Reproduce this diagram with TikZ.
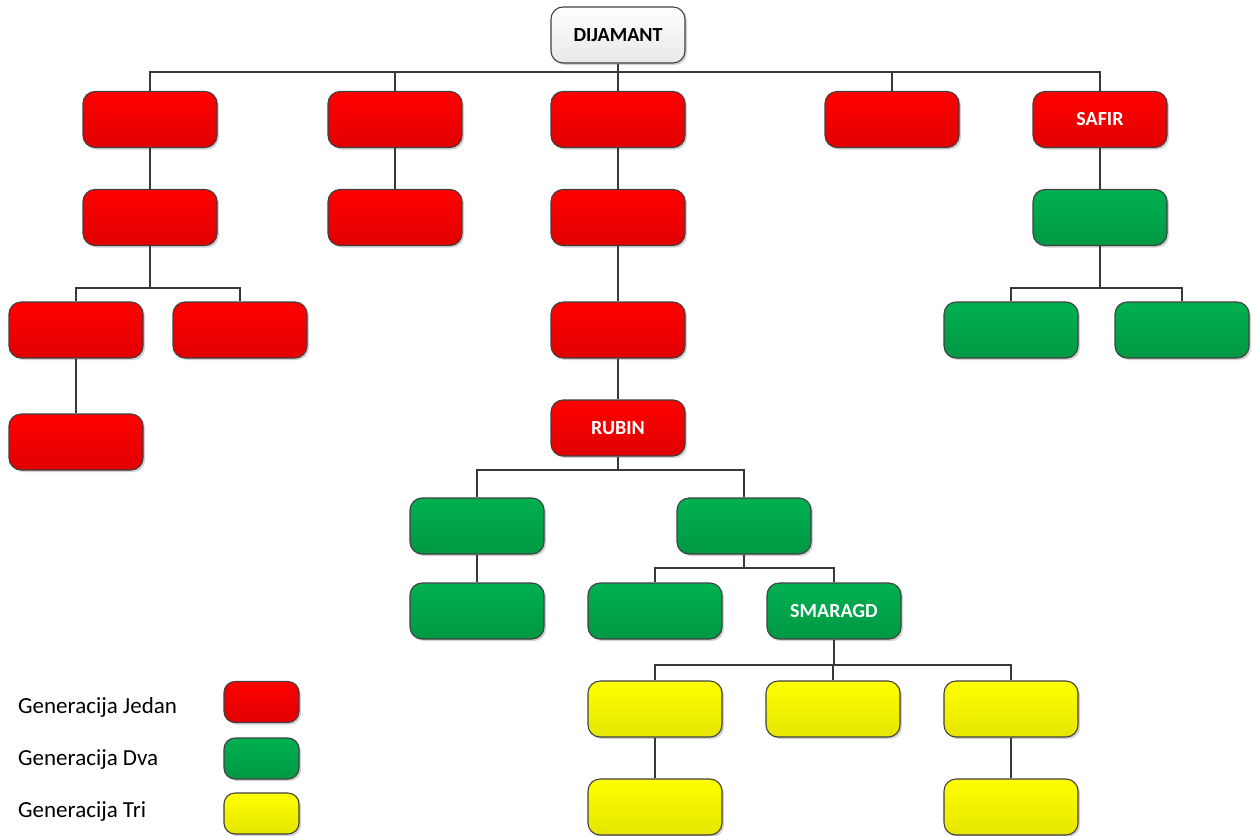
\documentclass[tikz,border=0pt]{standalone}
\usepackage{fontspec}
\setmainfont{Carlito}
\usetikzlibrary{shadows}
\begin{document}
\begin{tikzpicture}[x=1pt,y=-1pt,
  gbox/.style={draw=black!75, line width=1.1pt, rounded corners=12pt,
    minimum width=134pt, minimum height=56pt, inner sep=0pt,
    drop shadow={shadow xshift=2pt,shadow yshift=-2pt,opacity=0.18,fill=black},
    font=\fontsize{20}{24}\selectfont\bfseries},
  lbox/.style={gbox, minimum width=75pt, minimum height=41pt, rounded corners=11pt},
  redf/.style={top color=red, bottom color=red!88!black, text=white},
  greenf/.style={top color={rgb,255:red,0;green,176;blue,80}, bottom color={rgb,255:red,0;green,152;blue,68}, text=white},
  yelf/.style={top color=yellow, bottom color=yellow!90!black},
  whitef/.style={top color=white, bottom color=black!9, text=black},
  edge/.style={draw=black!78, line width=1.3pt},
  legtext/.style={anchor=west, inner sep=0pt, font=\fontsize{23}{27}\selectfont}
]
\useasboundingbox (0,0) rectangle (1252,835);

% nodes
\node[gbox,whitef] (dia) at (618,35) {DIJAMANT};

\node[gbox,redf] (a1) at (150,119.5) {};
\node[gbox,redf] (b1) at (395,119.5) {};
\node[gbox,redf] (c1) at (618,119.5) {};
\node[gbox,redf] (d1) at (892,119.5) {};
\node[gbox,redf] (safir) at (1100,119.5) {SAFIR};

\node[gbox,redf] (a2) at (150,217.5) {};
\node[gbox,redf] (b2) at (395,217.5) {};
\node[gbox,redf] (c2) at (618,217.5) {};
\node[gbox,greenf] (s2) at (1100,217.5) {};

\node[gbox,redf] (a3l) at (76,330) {};
\node[gbox,redf] (a3r) at (240,330) {};
\node[gbox,redf] (c3) at (618,330) {};
\node[gbox,greenf] (s3l) at (1011,330) {};
\node[gbox,greenf] (s3r) at (1182,330) {};

\node[gbox,redf] (a4) at (76,442) {};
\node[gbox,redf] (rubin) at (618,428) {RUBIN};

\node[gbox,greenf] (r5l) at (477,526) {};
\node[gbox,greenf] (r5r) at (744,526) {};

\node[gbox,greenf] (r6l) at (477,611) {};
\node[gbox,greenf] (r6m) at (655,611) {};
\node[gbox,greenf] (sma) at (834,611) {SMARAGD};

\node[gbox,yelf] (y7l) at (655,709) {};
\node[gbox,yelf] (y7m) at (833,709) {};
\node[gbox,yelf] (y7r) at (1011,709) {};

\node[gbox,yelf] (y8l) at (655,807) {};
\node[gbox,yelf] (y8r) at (1011,807) {};

% legend
\node[legtext] (t1) at (18,707) {Generacija Jedan};
\node[legtext] (t2) at (18,760) {Generacija Dva};
\node[legtext] (t3) at (18,812) {Generacija Tri};
\node[lbox,redf] (l1) at (261.5,702) {};
\node[lbox,greenf] (l2) at (261.5,758.5) {};
\node[lbox,yelf] (l3) at (261.5,813.5) {};

% connectors
\foreach \c in {a1,b1,c1,d1,safir}
  \draw[edge] (dia.south) -- (dia.south |- 0,72) -| (\c.north);
\draw[edge] (a1) -- (a2);
\draw[edge] (b1) -- (b2);
\draw[edge] (c1) -- (c2);
\draw[edge] (safir) -- (s2);
\foreach \c in {a3l,a3r}
  \draw[edge] (a2.south) -- (a2.south |- 0,288) -| (\c.north);
\foreach \c in {s3l,s3r}
  \draw[edge] (s2.south) -- (s2.south |- 0,288) -| (\c.north);
\draw[edge] (c2) -- (c3);
\draw[edge] (c3) -- (rubin);
\draw[edge] (a3l) -- (a4);
\foreach \c in {r5l,r5r}
  \draw[edge] (rubin.south) -- (rubin.south |- 0,470) -| (\c.north);
\draw[edge] (r5l) -- (r6l);
\foreach \c in {r6m,sma}
  \draw[edge] (r5r.south) -- (r5r.south |- 0,568) -| (\c.north);
\foreach \c in {y7l,y7m,y7r}
  \draw[edge] (sma.south) -- (sma.south |- 0,665) -| (\c.north);
\draw[edge] (y7l) -- (y8l);
\draw[edge] (y7r) -- (y8r);
\end{tikzpicture}
\end{document}
